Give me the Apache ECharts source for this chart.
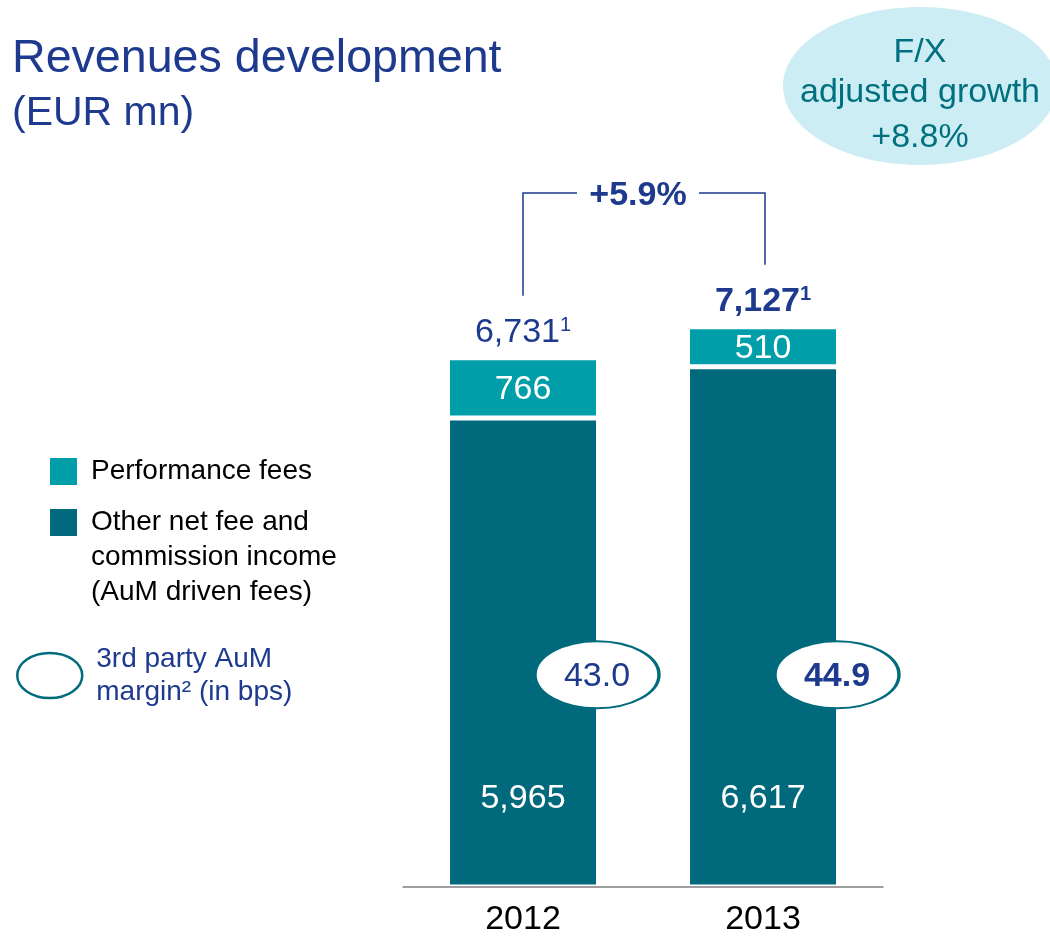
<!DOCTYPE html>
<html>
<head>
<meta charset="utf-8">
<script src="https://cdn.jsdelivr.net/npm/echarts@6/dist/echarts.min.js"></script>
<style>html,body{margin:0;padding:0;background:#fff}#c{width:1050px;height:937px}</style>
</head>
<body>
<div id="c"></div>
<script>
// ---- data ----
const years = ['2012', '2013'];
const otherFees = [5965, 6617];
const performanceFees = [766, 510];
const totals = [6731, 7127];
const aumMargin = [43.0, 44.9];
const fxAdjustedGrowth = '+8.8%';

// ---- styling ----
const FONT = '"Liberation Sans", Arial, sans-serif';
const BLUE = '#1E3A8E';
const TEAL_LIGHT = '#009EA8';
const TEAL_DARK = '#00697C';
const RING = '#006B7B';
const ELLIPSE = 'path://M0,50A50,50,0,1,1,100,50A50,50,0,1,1,0,50Z';
const N_PERF = 'Performance fees';
const N_OTHER = 'Other net fee and commission income (AuM driven fees)';
const N_MARGIN = '3rd party AuM margin² (in bps)';
const fmt = v => v.toLocaleString('en-US');
const last = totals.length - 1;

const chart = echarts.init(document.getElementById('c'), null, {renderer: 'canvas'});

chart.setOption({
  animation: false,
  backgroundColor: '#fff',
  textStyle: {fontFamily: FONT},
  title: {
    text: 'Revenues development', subtext: '(EUR mn)',
    left: 7, top: 31, itemGap: 11, padding: 5,
    textStyle: {fontSize: 46.6, fontWeight: 'normal', color: BLUE, fontFamily: FONT, lineHeight: 46},
    subtextStyle: {fontSize: 41, color: BLUE, fontFamily: FONT, lineHeight: 40}
  },
  grid: {left: 403, right: 167, top: 258, bottom: 47},
  xAxis: {
    type: 'category', data: years, z: 10,
    axisLine: {lineStyle: {color: '#7F7F7F', width: 1.5}},
    axisTick: {show: false},
    axisLabel: {fontSize: 34, color: '#000', margin: 16, fontFamily: FONT}
  },
  yAxis: {type: 'value', min: 0, max: 8000, show: false},
  legend: [
    {
      data: [N_PERF], left: 50, top: 454, padding: 0, selectedMode: false,
      itemWidth: 27, itemHeight: 27, icon: 'rect', itemStyle: {borderWidth: 0},
      textStyle: {fontSize: 28, color: '#000', lineHeight: 35, fontFamily: FONT, padding: [0, 0, 0, 9]}
    },
    {
      data: [N_OTHER], left: 50, top: 435, padding: 0, selectedMode: false,
      itemWidth: 27, itemHeight: 27, icon: 'rect', itemStyle: {borderWidth: 0},
      formatter: () => '\n\nOther net fee and\ncommission income\n(AuM driven fees)',
      textStyle: {fontSize: 28, color: '#000', lineHeight: 35, fontFamily: FONT, padding: [0, 0, 0, 9]}
    },
    {
      data: [N_MARGIN], left: 16, top: 642.5, padding: 0, selectedMode: false,
      itemWidth: 65, itemHeight: 45, icon: ELLIPSE, symbolKeepAspect: false,
      itemStyle: {color: '#fff', borderColor: RING, borderWidth: 2.5},
      formatter: () => '3rd party AuM\nmargin² (in bps)',
      textStyle: {fontSize: 28, color: BLUE, lineHeight: 33, fontFamily: FONT, padding: [0, 0, 0, 9]}
    }
  ],
  series: [
    {
      name: N_OTHER, type: 'bar', stack: 'rev', data: otherFees, barWidth: 151,
      itemStyle: {color: TEAL_DARK, borderColor: '#fff', borderWidth: 2.5},
      label: {show: true, position: 'insideBottom', distance: 71, fontSize: 34, color: '#fff', fontFamily: FONT,
        formatter: p => fmt(p.value)}
    },
    {
      name: N_PERF, type: 'bar', stack: 'rev', data: performanceFees, barWidth: 151,
      itemStyle: {color: TEAL_LIGHT, borderColor: '#fff', borderWidth: 2.5},
      label: {show: true, position: 'inside', offset: [0, 2], fontSize: 34, color: '#fff', fontFamily: FONT,
        formatter: p => fmt(p.value)}
    },
    {
      name: 'total', type: 'bar', stack: 'rev', barWidth: 151, silent: true,
      data: totals.map((t, i) => ({value: 0, label: {rich: {n: {fontWeight: i === last ? 'bold' : 'normal'}, s: {fontWeight: i === last ? 'bold' : 'normal'}}}})),
      itemStyle: {color: 'rgba(0,0,0,0)', borderWidth: 0},
      label: {show: true, position: 'top', distance: 8, color: BLUE, fontFamily: FONT,
        formatter: p => '{n|' + fmt(totals[p.dataIndex]) + '}{s|1}',
        rich: {
          n: {fontSize: 34, color: BLUE, fontFamily: FONT, lineHeight: 34},
          s: {fontSize: 20, color: BLUE, fontFamily: FONT, lineHeight: 20, verticalAlign: 'top'}
        }}
    },
    {
      name: N_MARGIN, type: 'scatter', z: 5,
      data: aumMargin.map((m, i) => ({value: [i, 2700], label: {fontWeight: i === last ? 'bold' : 'normal'}})),
      symbol: ELLIPSE, symbolSize: [124, 67], symbolOffset: [74, 0],
      itemStyle: {color: '#fff', borderColor: RING, borderWidth: 2.5, opacity: 1},
      label: {show: true, position: 'inside', offset: [0, 2], fontSize: 34, color: BLUE, fontFamily: FONT,
        formatter: p => aumMargin[p.dataIndex].toFixed(1)}
    }
  ]
});

// ---- annotations (bracket, growth, F/X bubble) ----
const p0 = chart.convertToPixel({gridIndex: 0}, [0, totals[0]]);
const p1 = chart.convertToPixel({gridIndex: 0}, [1, totals[1]]);
const growth = (totals[1] / totals[0] - 1) * 100;
const growthText = (growth >= 0 ? '+' : '') + growth.toFixed(1) + '%';
const topY = 193;
const tx = (p0[0] + p1[0]) / 2 - 5;
const lineStyle = {stroke: BLUE, lineWidth: 1.5, fill: null};
const FX = '#00707F';

chart.setOption({
  graphic: [
    {type: 'polyline', silent: true, shape: {points: [[p0[0], p0[1] - 62], [p0[0], topY], [tx - 61, topY]]}, style: lineStyle},
    {type: 'polyline', silent: true, shape: {points: [[tx + 61, topY], [p1[0] + 2, topY], [p1[0] + 2, p1[1] - 62]]}, style: lineStyle},
    {type: 'text', silent: true, style: {text: growthText, x: tx, y: topY + 3, align: 'center', verticalAlign: 'middle',
      font: 'bold 34px ' + FONT, fill: BLUE}},
    {type: 'ellipse', silent: true, shape: {cx: 920, cy: 86, rx: 137, ry: 79}, style: {fill: '#CDEDF4'}},
    {type: 'text', silent: true, style: {text: 'F/X', x: 920, y: 53, align: 'center', verticalAlign: 'middle', font: '34px ' + FONT, fill: FX}},
    {type: 'text', silent: true, style: {text: 'adjusted growth', x: 920, y: 93, align: 'center', verticalAlign: 'middle', font: '34px ' + FONT, fill: FX}},
    {type: 'text', silent: true, style: {text: fxAdjustedGrowth, x: 920, y: 138, align: 'center', verticalAlign: 'middle', font: '34px ' + FONT, fill: FX}}
  ]
});
</script>
</body>
</html>
